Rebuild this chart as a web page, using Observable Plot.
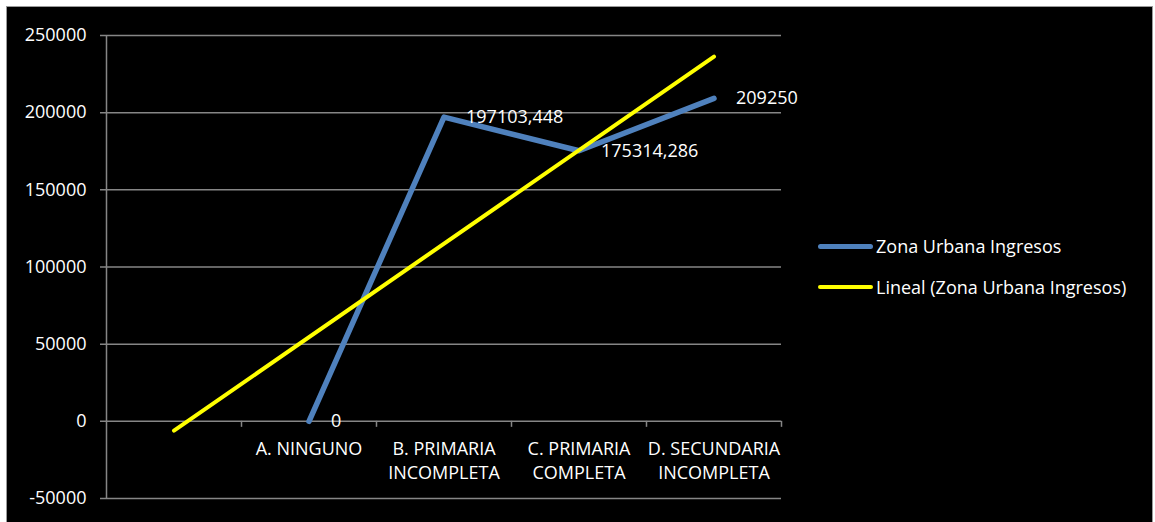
<!DOCTYPE html>
<html>
<head>
<meta charset="utf-8">
<script src="https://cdn.jsdelivr.net/npm/d3@7"></script>
<script src="https://cdn.jsdelivr.net/npm/@observablehq/plot@0.6"></script>
<style>
  html, body { margin: 0; padding: 0; background: #fff; width: 1155px; height: 522px; overflow: hidden; }
  #box { position: absolute; left: 6px; top: 6px; width: 1145px; height: 530px; background: #000; border: 1px solid #9a9a9a; }
  #chart { position: absolute; left: 0; top: 0; }
  .legend { position: absolute; left: 818px; font-family: "Open Sans", sans-serif; font-size: 18px; color: #fff; display: flex; align-items: center; white-space: nowrap; }
  .legend .sw { width: 55px; border-radius: 3px; margin-right: 3px; }
</style>
</head>
<body>
<div id="box"></div>
<div id="chart"></div>
<div class="legend" style="top:234px"><span class="sw" style="height:5px;background:#4F81BD"></span>Zona Urbana Ingresos</div>
<div class="legend" style="top:275px"><span class="sw" style="height:4px;background:#FFFF00"></span>Lineal (Zona Urbana Ingresos)</div>
<script>
// Categories (first slot is empty in the original)
const categories = ["", "A. NINGUNO", "B. PRIMARIA\nINCOMPLETA", "C. PRIMARIA\nCOMPLETA", "D. SECUNDARIA\nINCOMPLETA"];
const ingresos = [null, 0, 197103.448, 175314.286, 209250];
const dataLabels = ["", "0", "197103,448", "175314,286", "209250"];
// Linear trendline values at first and last category
const trendCats = [0, 4];
const trendValues = [-6073, 236311];
const yTicks = [-50000, 0, 50000, 100000, 150000, 200000, 250000];

const series = categories.map((c, i) => ({x: i + 1, y: ingresos[i], label: dataLabels[i], cat: c}))
  .filter(d => d.y != null);
const trend = trendCats.map((ci, j) => ({x: ci + 1, y: trendValues[j]}));
const cats = categories.map((c, i) => ({x: i + 1, cat: c}));
const bounds = d3.range(categories.length + 1).map(i => i + 0.5);

const chart = Plot.plot({
  width: 1155,
  height: 522,
  marginLeft: 106,
  marginRight: 374,
  marginTop: 35,
  marginBottom: 24,
  style: {background: "transparent", color: "#fff", fontFamily: "'Open Sans', sans-serif", fontSize: "18px"},
  x: {domain: [0.5, categories.length + 0.5], axis: null},
  y: {domain: [-50000, 250000], ticks: yTicks, tickSize: 0, tickPadding: 20, tickFormat: d => String(d), label: null},
  marks: [
    Plot.ruleY(yTicks, {x1: 0.5, x2: categories.length + 0.5, insetLeft: -6, stroke: "#868686", strokeWidth: 1.5}),
    Plot.ruleX([0.5], {stroke: "#868686", strokeWidth: 1.5}),
    Plot.ruleX(bounds.slice(1), {x: d => d, y1: 0, y2: 0, insetBottom: -6, stroke: "#868686", strokeWidth: 1.5}),
    Plot.text(cats, {x: "x", y: 0, text: "cat", lineAnchor: "top", dy: 17, lineHeight: 1.33, fill: "#fff", fontSize: 18}),
    Plot.line(series, {x: "x", y: "y", stroke: "#4F81BD", strokeWidth: 5.5, strokeLinecap: "round", strokeLinejoin: "round"}),
    Plot.line(trend, {x: "x", y: "y", stroke: "#FFFF00", strokeWidth: 4}),
    Plot.text(series, {x: "x", y: "y", text: "label", textAnchor: "start", dx: 22, fill: "#fff", fontSize: 18})
  ]
});
document.getElementById("chart").append(chart);
</script>
</body>
</html>
